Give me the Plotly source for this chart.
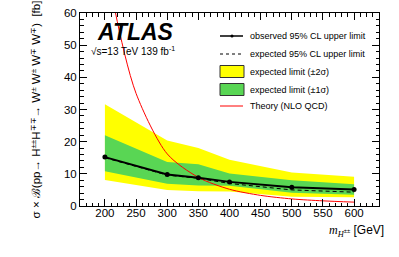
import plotly.graph_objects as go

mass = [200, 300, 350, 400, 500, 600]
observed = [15.2, 9.8, 8.8, 7.5, 5.8, 5.1]
expected = [15.0, 9.6, 8.6, 7.0, 5.0, 4.3]
exp_m2 = [8.1, 5.0, 4.6, 4.5, 2.9, 2.7]
exp_m1 = [10.8, 6.9, 6.4, 6.3, 4.1, 3.5]
exp_p1 = [22.0, 13.7, 13.0, 10.1, 8.0, 6.8]
exp_p2 = [31.6, 20.4, 18.0, 14.4, 10.4, 9.1]

theory_mass = [200, 217, 250, 300, 350, 400, 450, 500, 550, 600]
theory_xs = [82.0, 60.0, 35.0, 16.2, 8.9, 5.2, 3.3, 2.2, 1.6, 1.2]

YELLOW = "#FFFF00"
GREEN = "#59D654"
RED = "#FF0000"
FONT = "Liberation Sans"

fig = go.Figure()
fig.add_trace(go.Scatter(x=mass + mass[::-1], y=exp_p2 + exp_m2[::-1], fill="toself",
                         fillcolor=YELLOW, line=dict(width=0), mode="lines", hoverinfo="skip"))
fig.add_trace(go.Scatter(x=mass + mass[::-1], y=exp_p1 + exp_m1[::-1], fill="toself",
                         fillcolor=GREEN, line=dict(width=0), mode="lines", hoverinfo="skip"))
fig.add_trace(go.Scatter(x=mass, y=expected, mode="lines",
                         line=dict(color="black", width=1, dash="4px,3px")))
fig.add_trace(go.Scatter(x=theory_mass, y=theory_xs, mode="lines",
                         line=dict(color=RED, width=1, shape="spline", smoothing=0.8)))
fig.add_trace(go.Scatter(x=mass, y=observed, mode="lines+markers",
                         line=dict(color="black", width=2),
                         marker=dict(color="black", size=5)))

L, R, T, B = 80, 379, 13, 206


def px(X):
    return (X - L) / (R - L)


def py(Y):
    return (B - Y) / (B - T)


shapes = []
annotations = []
# legend glyphs
shapes.append(dict(type="line", xref="paper", yref="paper", x0=px(220), x1=px(243), y0=py(36), y1=py(36),
                   line=dict(color="black", width=1.5)))
shapes.append(dict(type="circle", xref="paper", yref="paper", x0=px(230.5), x1=px(233.5), y0=py(34.5), y1=py(37.5),
                   fillcolor="black", line=dict(color="black", width=0)))
shapes.append(dict(type="line", xref="paper", yref="paper", x0=px(220), x1=px(243), y0=py(54), y1=py(54),
                   line=dict(color="black", width=1, dash="3px,3px")))
shapes.append(dict(type="rect", xref="paper", yref="paper", x0=px(220), x1=px(244), y0=py(77.5), y1=py(65.5),
                   fillcolor=YELLOW, line=dict(color="#333333", width=1)))
shapes.append(dict(type="rect", xref="paper", yref="paper", x0=px(220), x1=px(244), y0=py(95.5), y1=py(83.5),
                   fillcolor=GREEN, line=dict(color="#333333", width=1)))
shapes.append(dict(type="line", xref="paper", yref="paper", x0=px(220), x1=px(243), y0=py(106), y1=py(106),
                   line=dict(color=RED, width=1)))

leg_texts = ["observed 95% CL upper limit", "expected 95% CL upper limit",
             "expected limit (±2σ)", "expected limit (±1σ)", "Theory (NLO QCD)"]
leg_y = [36, 54, 71.5, 89.5, 106]
for t, yy in zip(leg_texts, leg_y):
    annotations.append(dict(text=t, xref="paper", yref="paper", x=px(248), y=py(yy),
                            xanchor="left", yanchor="middle", showarrow=False,
                            font=dict(family=FONT, size=9, color="black")))

annotations.append(dict(text="<b><i>ATLAS</i></b>", xref="paper", yref="paper", x=px(96), y=py(32),
                        xanchor="left", yanchor="middle", showarrow=False, borderpad=0,
                        font=dict(family=FONT, size=23, color="black")))
annotations.append(dict(text="√s=13 TeV 139 fb<sup>-1</sup>", xref="paper", yref="paper", x=px(90), y=py(51),
                        xanchor="left", yanchor="middle", showarrow=False, borderpad=0,
                        font=dict(family=FONT, size=10, color="black")))
annotations.append(dict(text="<i><span style='font-family:Liberation Serif'>m</span></i><sub><i><span style='font-family:Liberation Serif'>H</span></i><sup>±±</sup></sub> [GeV]",
                        xref="paper", yref="paper", x=px(386), y=py(231),
                        xanchor="right", yanchor="middle", showarrow=False,
                        font=dict(family=FONT, size=12, color="black")))

fig.update_layout(
    width=399, height=257,
    margin=dict(l=L, r=399 - R, t=T, b=257 - B),
    paper_bgcolor="white", plot_bgcolor="white",
    showlegend=False,
    font=dict(family=FONT, size=11, color="black"),
    shapes=shapes, annotations=annotations,
)
fig.update_xaxes(range=[160, 640], showgrid=False, zeroline=False, automargin=False,
                 showline=True, linecolor="black", linewidth=1, mirror="allticks",
                 ticks="inside", ticklen=7, tickcolor="black", dtick=50, tick0=0,
                 minor=dict(ticks="inside", ticklen=3.5, dtick=10, tickcolor="black"),
                 tickfont=dict(family=FONT, size=11.5), ticklabelstandoff=-4)
fig.update_yaxes(range=[0, 60], showgrid=False, zeroline=False, automargin=False,
                 showline=True, linecolor="black", linewidth=1, mirror="allticks",
                 ticks="inside", ticklen=7, tickcolor="black", dtick=10, tick0=0,
                 minor=dict(ticks="inside", ticklen=3.5, dtick=2, tickcolor="black"),
                 tickfont=dict(family=FONT, size=11.5),
                 title=dict(text="σ × ℬ(pp→ H<sup>±±</sup>H<sup>∓∓</sup>→ W<sup>±</sup> W<sup>±</sup> W<sup>∓</sup> W<sup>∓</sup>)  [fb]",
                            font=dict(family=FONT, size=11.5), standoff=20))

fig.write_html("out.html", config={"displayModeBar": False},
               post_script="document.body.style.margin='0px';document.body.style.overflow='hidden';")
